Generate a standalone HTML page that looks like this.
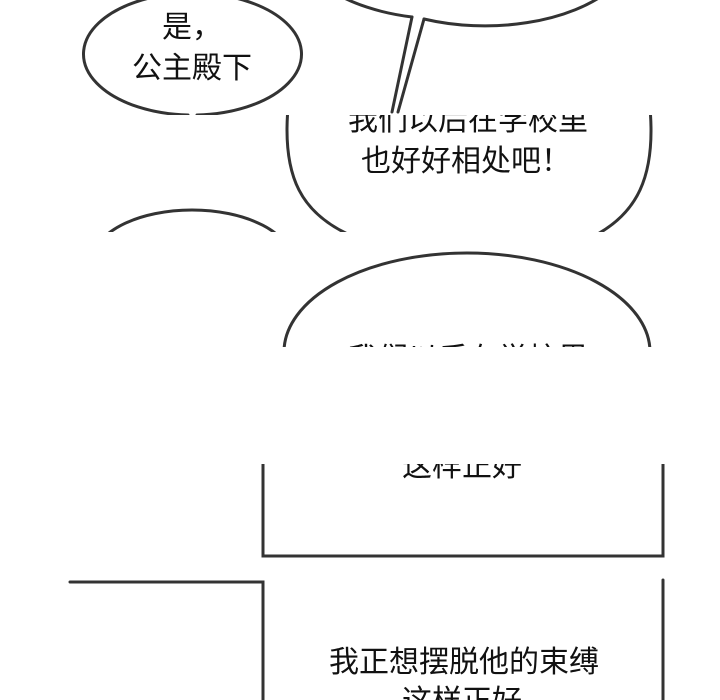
<!DOCTYPE html>
<html><head><meta charset="utf-8"><style>
html,body{margin:0;padding:0;background:#fff;width:720px;height:700px;overflow:hidden}
svg text{font-family:"Liberation Sans","Noto Sans CJK SC",sans-serif;font-size:30px;fill:#111;text-anchor:middle}
</style></head><body>
<svg width="720" height="700" viewBox="0 0 720 700" xmlns="http://www.w3.org/2000/svg">
<defs>
<clipPath id="a"><rect x="0" y="0" width="720" height="115"/></clipPath>
<clipPath id="b"><rect x="0" y="115" width="720" height="117"/></clipPath>
<clipPath id="c"><rect x="0" y="232" width="720" height="115"/></clipPath>
<clipPath id="d"><rect x="0" y="464" width="720" height="96"/></clipPath>
<clipPath id="e"><rect x="0" y="578" width="720" height="122"/></clipPath>
</defs>
<g fill="none" stroke="#333" stroke-width="3" stroke-linecap="round">
<g clip-path="url(#a)">
  <path d="M188,115 A109,61 0 1,1 197,115" fill="#fff"/>
  <path d="M412,17 A150,80 0 0,1 330,-10 M424,19 A150,80 0 0,0 610,-10"/>
  <path d="M412,17 L392,112 M424,19 L398,112"/>
</g>
<g clip-path="url(#b)">
  <path d="M288,108 C282,178 302,214 352,236"/>
  <path d="M650,108 C656,178 636,214 594,236"/>
  <ellipse cx="192" cy="262" rx="100" ry="52"/>
</g>
<g clip-path="url(#c)">
  <ellipse cx="467" cy="352" rx="183" ry="99"/>
</g>
<g clip-path="url(#d)">
  <path d="M263,440 L263,556 L663,556 L663,440"/>
</g>
<g clip-path="url(#e)">
  <path d="M70,582 L263,582 L263,710 M663,580 L663,710"/>
</g>
</g>
<g clip-path="url(#a)">
  <text x="192" y="37">是，</text>
  <text x="192" y="78">公主殿下</text>
</g>
<g clip-path="url(#b)">
  <text x="468" y="130">我们以后在学校里</text>
  <text x="466" y="171">也好好相处吧！</text>
</g>
<g clip-path="url(#c)">
  <text x="468" y="369">我们以后在学校里</text>
</g>
<g clip-path="url(#d)">
  <text x="462" y="476">这样正好</text>
</g>
<g clip-path="url(#e)">
  <text x="464" y="672">我正想摆脱他的束缚</text>
  <text x="462" y="711">这样正好</text>
</g>
</svg>
</body></html>
